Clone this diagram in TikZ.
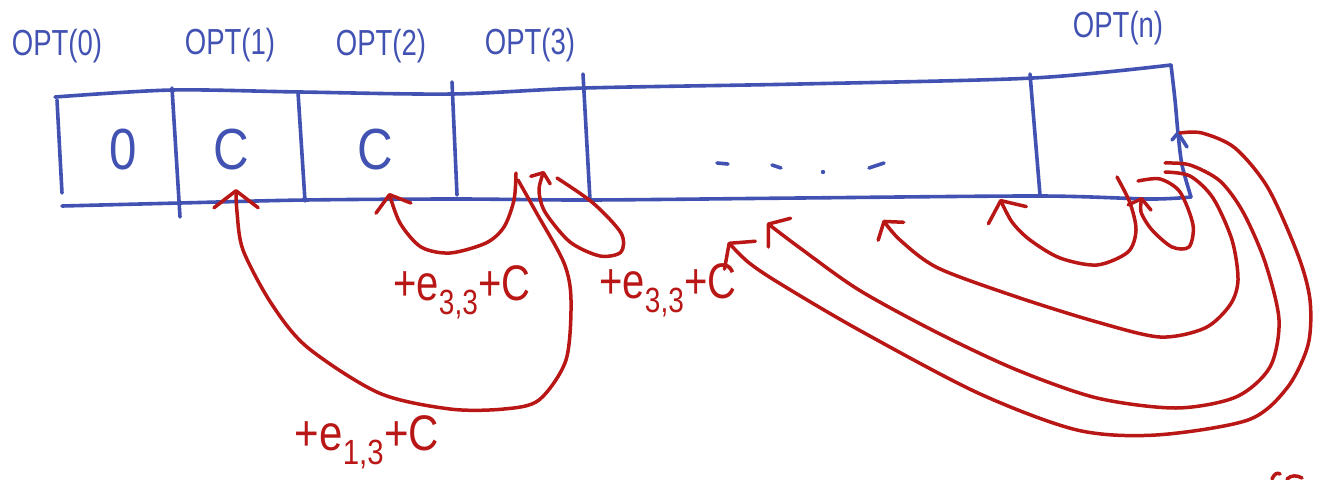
\documentclass[tikz,border=0pt]{standalone}
\usepackage{fontspec}
\setmainfont{Liberation Sans}
\usetikzlibrary{arrows.meta}
\definecolor{penblue}{RGB}{66,82,178}
\definecolor{penred}{RGB}{185,22,22}
\newcommand{\tallx}[1]{\scalebox{0.95}[1.25]{#1}}
\begin{document}
\begin{tikzpicture}[x=1pt,y=-1pt,
  blueline/.style={draw=penblue,line width=3.6pt,line cap=round,line join=round},
  redline/.style={draw=penred,line width=3.5pt,line cap=round,line join=round},
  barb/.style={-{Straight Barb[length=#1,width=2.6*#1,line cap=round,line join=round]}},
  optlbl/.style={text=penblue,font=\fontsize{29}{32}\selectfont,inner sep=0pt},
  cellval/.style={text=penblue,font=\fontsize{58}{60}\selectfont,inner sep=0pt},
  cost/.style={text=penred,font=\fontsize{40}{44}\selectfont,inner sep=0pt}]
\useasboundingbox (0,0) rectangle (1319,479);
% ---- array frame
\coordinate (tl) at (55,97);
\coordinate (t1) at (172,90);
\coordinate (t2) at (300,92);
\coordinate (t3) at (452,94);
\coordinate (t4) at (585,88);
\coordinate (tm) at (800,84);
\coordinate (t5) at (1033,78);
\coordinate (tr) at (1171,65);
\coordinate (rb) at (1178,133);
\coordinate (br) at (1191,197);
\coordinate (b5) at (1040,196);
\coordinate (bm) at (800,198);
\coordinate (b4) at (590,200);
\coordinate (b3) at (457,199);
\coordinate (b2) at (305,200);
\coordinate (b1) at (180,203);
\coordinate (bl) at (62,206);
\draw[blueline] plot[smooth] coordinates {(tl) (t1) (t2) (t3) (t4) (tm) (t5) (tr)};
\draw[blueline] plot[smooth] coordinates {(tr) (1175,100) (rb) (1182,165) (br)};
\draw[blueline] plot[smooth] coordinates {(br) (1150,199) (b5) (bm) (b4) (b3) (b2) (b1) (bl)};
\draw[blueline] (1172,140) -- (rb) -- (1187,147);
% dividers
\draw[blueline] (57,100) -- (62,193);
\draw[blueline] (172,88) -- (180,217);
\draw[blueline] (298,92) -- (305,201);
\draw[blueline] (452,82) -- (457,195);
\draw[blueline] (583,74) -- (590,200);
\draw[blueline] (1030,74) -- (1040,195);
% cell values
\node[cellval] (v0) at (123,150) {\scalebox{0.85}[1]{0}};
\node[cellval] (v1) at (231,150) {\scalebox{0.85}[1]{C}};
\node[cellval] (v2) at (375,150) {\scalebox{0.85}[1]{C}};
% dots
\draw[blueline] (717,163) -- (728,164);
\draw[blueline] (772,165) -- (781,168);
\fill[penblue] (823,172) circle (2.2);
\draw[blueline] (869,168) -- (884,163);
% labels
\node[optlbl] (o0) at (57,46) {\tallx{OPT(0)}};
\node[optlbl] (o1) at (230,45) {\tallx{OPT(1)}};
\node[optlbl] (o2) at (381,46) {\tallx{OPT(2)}};
\node[optlbl] (o3) at (530,45) {\tallx{OPT(3)}};
\node[optlbl] (on) at (1118,28) {\tallx{OPT(n)}};
% ---- red connectors
\coordinate (a0) at (518,180);
\coordinate (c1) at (236,189);
\draw[redline,barb=17pt] plot[smooth] coordinates {(a0) (536,212) (564,263) (571,300) (566,360) (539,400) (504,409) (450,409) (379,393) (307,347) (271,303) (243,250) (237,212) (c1)};
\coordinate (b0) at (516,173);
\coordinate (c2) at (389,193);
\draw[redline,barb=14pt] plot[smooth] coordinates {(b0) (514,200) (504,227) (486,243) (450,253) (421,247) (400,223) (c2)};
\coordinate (s3) at (557,178);
\coordinate (c3) at (544,171);
\draw[redline,barb=8pt] plot[smooth] coordinates {(s3) (593,203) (621,233) (621,252) (600,256) (570,242) (545,212) (539,190) (c3)};
\coordinate (d0) at (1117,177);
\coordinate (c5) at (1000,199);
\draw[redline,barb=16pt] plot[smooth] coordinates {(d0) (1130,203) (1136,230) (1128,252) (1097,265) (1060,258) (1030,240) (1012,222) (c5)};
\coordinate (sn) at (1138,181);
\coordinate (cn) at (1142,197);
\draw[redline,barb=9pt] plot[smooth] coordinates {(sn) (1160,179) (1180,192) (1193,225) (1189,247) (1172,247) (1152,230) (1141,212) (cn)};
\coordinate (e0) at (1165,172);
\coordinate (ce) at (883,220);
\draw[redline,barb=12pt] plot[smooth] coordinates {(e0) (1190,176) (1213,198) (1232,240) (1238,280) (1230,305) (1205,328) (1160,337) (1097,322) (1017,297) (938,268) (900,240) (ce)};
\coordinate (f0) at (1165,163);
\coordinate (cf) at (767,223);
\draw[redline,barb=14pt] plot[smooth] coordinates {(f0) (1190,165) (1220,181) (1243,212) (1265,262) (1279,320) (1270,367) (1236,397) (1176,408) (1097,398) (1017,370) (938,333) (859,290) (800,248) (cf)};
\coordinate (g0) at (1180,133);
\coordinate (cg) at (728,242);
\draw[redline,barb=16pt] plot[smooth] coordinates {(g0) (1202,133) (1235,148) (1268,188) (1298,255) (1310,300) (1308,345) (1287,388) (1248,420) (1156,435) (1077,430) (978,393) (859,330) (779,283) (748,262) (cg)};
% fragment at bottom edge
\draw[redline] (1272,479) .. controls (1274,474) and (1277,472) .. (1280,474);
\draw[redline] (1287,479) .. controls (1291,475) and (1297,475) .. (1302,478);
% cost labels
\node[cost] (k1) at (462,292) {\scalebox{1}[1.25]{+e\textsubscript{3,3}+C}};
\node[cost] (k2) at (668,290) {\scalebox{1}[1.25]{+e\textsubscript{3,3}+C}};
\node[cost] (k3) at (367,442) {\scalebox{1.05}[1.25]{+e\textsubscript{1,3}+C}};
\end{tikzpicture}
\end{document}
